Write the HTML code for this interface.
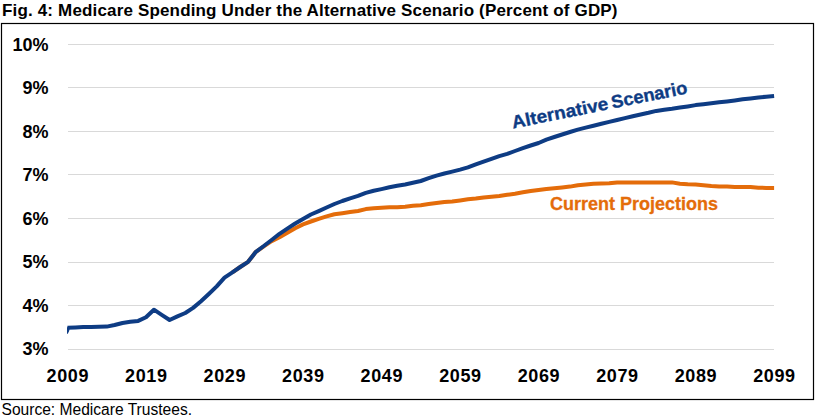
<!DOCTYPE html>
<html><head><meta charset="utf-8"><style>
html,body{margin:0;padding:0;background:#fff;width:820px;height:417px;overflow:hidden}
svg{display:block;font-family:"Liberation Sans",sans-serif}
</style></head><body>
<svg width="820" height="417" viewBox="0 0 820 417">
<rect x="0" y="0" width="820" height="417" fill="#fff"/>
<text x="2" y="15.8" font-size="17" font-weight="bold" fill="#000" textLength="615.5" lengthAdjust="spacing">Fig. 4: Medicare Spending Under the Alternative Scenario (Percent of GDP)</text>
<rect x="1.5" y="23.5" width="812" height="376" fill="none" stroke="#000" stroke-width="1.2"/>
<g stroke="#d9d9d9" stroke-width="1"><line x1="68" x2="774" y1="44.5" y2="44.5"/><line x1="68" x2="774" y1="87.5" y2="87.5"/><line x1="68" x2="774" y1="131.5" y2="131.5"/><line x1="68" x2="774" y1="174.5" y2="174.5"/><line x1="68" x2="774" y1="218.5" y2="218.5"/><line x1="68" x2="774" y1="262.5" y2="262.5"/><line x1="68" x2="774" y1="305.5" y2="305.5"/><line x1="68" x2="774" y1="349.5" y2="349.5"/></g>
<g font-size="18" font-weight="bold" text-anchor="end" fill="#000"><text x="48.6" y="50.9">10%</text><text x="48.6" y="94.3">9%</text><text x="48.6" y="137.8">8%</text><text x="48.6" y="181.3">7%</text><text x="48.6" y="224.7">6%</text><text x="48.6" y="268.1">5%</text><text x="48.6" y="311.6">4%</text><text x="48.6" y="355.1">3%</text></g>
<g font-size="18" font-weight="bold" text-anchor="middle" fill="#000" letter-spacing="0.6"><text x="67.8" y="382">2009</text><text x="146.3" y="382">2019</text><text x="224.8" y="382">2029</text><text x="303.3" y="382">2039</text><text x="381.8" y="382">2049</text><text x="460.4" y="382">2059</text><text x="538.9" y="382">2069</text><text x="617.4" y="382">2079</text><text x="695.9" y="382">2089</text><text x="774.4" y="382">2099</text></g>
<path d="M232.4,272.3 L240.2,267.0 L248.1,261.8 L255.9,251.8 L263.8,246.3 L271.6,241.2 L279.5,237.3 L287.3,232.7 L295.2,228.2 L303.0,224.4 L310.9,221.5 L318.7,218.8 L326.6,216.4 L334.4,214.3 L342.3,213.2 L350.1,212.1 L358.0,211.0 L365.8,209.1 L373.7,208.3 L381.5,207.8 L389.4,207.2 L397.2,207.2 L405.1,206.7 L412.9,205.8 L420.8,205.2 L428.7,204.1 L436.5,203.0 L444.4,202.0 L452.2,201.4 L460.1,200.4 L467.9,199.3 L475.8,198.6 L483.6,197.5 L491.5,196.7 L499.3,195.9 L507.2,194.8 L515.0,193.7 L522.9,192.3 L530.7,191.0 L538.6,189.9 L546.4,189.0 L554.3,188.2 L562.1,187.4 L570.0,186.6 L577.8,185.2 L585.7,184.5 L593.5,183.7 L601.4,183.4 L609.2,183.2 L617.1,182.5 L624.9,182.4 L632.8,182.4 L640.6,182.4 L648.5,182.4 L656.3,182.4 L664.2,182.4 L672.0,182.4 L679.9,183.8 L687.7,184.3 L695.6,184.6 L703.4,185.2 L711.3,186.0 L719.1,186.6 L727.0,186.5 L734.8,187.1 L742.7,187.1 L750.5,187.1 L758.4,187.8 L766.2,187.9 L774.1,187.9" fill="none" stroke="#E46C0A" stroke-width="4" stroke-linejoin="round"/>
<path d="M67.5,327.8 L75.4,327.5 L83.2,327.1 L91.1,327.0 L98.9,326.8 L106.8,326.6 L114.6,325.0 L122.5,323.0 L130.3,321.8 L138.2,320.9 L146.0,317.3 L153.9,309.7 L161.7,314.8 L169.6,320.0 L177.4,316.4 L185.3,313.0 L193.1,307.9 L201.0,301.2 L208.8,294.0 L216.7,286.4 L224.5,277.7 L232.4,272.3 L240.2,267.0 L248.1,261.8 L255.9,251.8 L263.8,246.0 L271.6,240.0 L279.5,233.8 L287.3,228.7 L295.2,223.5 L303.0,219.0 L310.9,214.5 L318.7,211.1 L326.6,207.5 L334.4,204.0 L342.3,201.0 L350.1,198.3 L358.0,195.9 L365.8,192.9 L373.7,190.7 L381.5,189.1 L389.4,187.3 L397.2,185.8 L405.1,184.5 L412.9,182.8 L420.8,181.0 L428.7,178.2 L436.5,175.6 L444.4,173.5 L452.2,171.6 L460.1,169.6 L467.9,167.4 L475.8,164.4 L483.6,161.6 L491.5,158.8 L499.3,156.1 L507.2,153.9 L515.0,151.0 L522.9,148.1 L530.7,145.5 L538.6,143.0 L546.4,139.6 L554.3,137.0 L562.1,134.5 L570.0,132.0 L577.8,129.6 L585.7,127.6 L593.5,125.7 L601.4,123.8 L609.2,121.9 L617.1,120.0 L624.9,118.1 L632.8,116.2 L640.6,114.5 L648.5,112.8 L656.3,110.9 L664.2,109.8 L672.0,108.8 L679.9,107.6 L687.7,106.4 L695.6,105.1 L703.4,104.2 L711.3,103.3 L719.1,102.3 L727.0,101.4 L734.8,100.4 L742.7,99.3 L750.5,98.4 L758.4,97.5 L766.2,96.7 L774.1,95.9" fill="none" stroke="#0E3C84" stroke-width="4" stroke-linejoin="round"/>
<path d="M67,326.5 L69.6,329.6 L68.9,331.4 L67.8,333.8 L67,333.8 Z" fill="#0E3C84"/>
<g transform="translate(513,128.6) rotate(-11.4)" font-size="18" font-weight="bold" fill="#0E3C84" stroke="#0E3C84" stroke-width="0.35"><text x="0" y="0" textLength="98" lengthAdjust="spacingAndGlyphs">Alternative</text><text x="101.6" y="0" textLength="77.1" lengthAdjust="spacingAndGlyphs">Scenario</text></g>
<text x="550" y="210" font-size="18" font-weight="bold" fill="#E46C0A" stroke="#E46C0A" stroke-width="0.3">Current Projections</text>
<text x="1.5" y="414.7" font-size="16" fill="#000" textLength="190.5" lengthAdjust="spacingAndGlyphs">Source: Medicare Trustees.</text>
</svg>
</body></html>
